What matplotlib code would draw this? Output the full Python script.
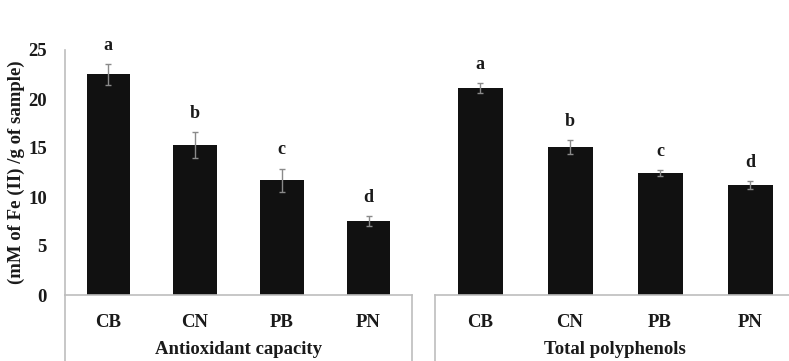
import matplotlib
matplotlib.use('Agg')
import matplotlib.pyplot as plt

samples = ['CB', 'CN', 'PB', 'PN']

antiox_mean = [22.5, 15.3, 11.7, 7.55]
antiox_err = [1.1, 1.3, 1.2, 0.5]
antiox_letters = ['a', 'b', 'c', 'd']

poly_mean = [21.1, 15.1, 12.45, 11.2]
poly_err = [0.5, 0.7, 0.3, 0.4]
poly_letters = ['a', 'b', 'c', 'd']

groups = ['Antioxidant capacity', 'Total polyphenols']
ylabel = '(mM of Fe (II) /g of sample)'

plt.rcParams['font.family'] = ['Liberation Serif', 'DejaVu Serif']
plt.rcParams['font.weight'] = 'bold'

W, H = 789, 361
fig = plt.figure(figsize=(W / 100, H / 100), dpi=100)

y0, y25 = 295, 50
bottom = (H - y0) / H
height = (y0 - y25) / H
ax1 = fig.add_axes([65 / W, bottom, (412 - 65) / W, height])
ax2 = fig.add_axes([435 / W, bottom, (795 - 435) / W, height])

gray = '#bdbdbd'
txt = '#1a1a1a'

for ax, means, errs, letters, group in [
        (ax1, antiox_mean, antiox_err, antiox_letters, groups[0]),
        (ax2, poly_mean, poly_err, poly_letters, groups[1])]:
    x = range(len(samples))
    ax.bar(x, means, width=0.5, color='#111111', zorder=2)
    ax.errorbar(x, means, yerr=errs, fmt='none', ecolor='#8a8a8a',
                elinewidth=1.0, capsize=2, capthick=1.0, zorder=3)
    for xi, m, e, l in zip(x, means, errs, letters):
        ax.text(xi, m + e + 1.9, l, ha='center', va='center',
                fontsize=13, fontweight='bold', color=txt)
    ax.set_xlim(-0.5, 3.5)
    ax.set_ylim(0, 25)
    ax.set_xticks(list(x))
    ax.set_xticklabels(samples, fontsize=13.5, fontweight='bold', color=txt)
    ax.tick_params(axis='x', length=0, pad=14)
    for s in ['top', 'right']:
        ax.spines[s].set_visible(False)
    ax.spines['bottom'].set_color(gray)
    ax.spines['bottom'].set_linewidth(1.2)
    ax.text(0.5, -(350 - y0) / (y0 - y25), group, transform=ax.transAxes,
            ha='center', va='center', fontsize=13.5, fontweight='bold', color=txt)
    # vertical separator below the baseline
    ax.plot([0, 0], [0, -(H - y0) / (y0 - y25)], transform=ax.transAxes,
            color=gray, lw=1.2, clip_on=False)

ax1.plot([1, 1], [0, -(H - y0) / (y0 - y25)], transform=ax1.transAxes,
         color=gray, lw=1.2, clip_on=False)

ax1.spines['left'].set_color(gray)
ax1.spines['left'].set_linewidth(1.2)
ax1.set_yticks([0, 5, 10, 15, 20, 25])
ax1.set_yticklabels(['0', '5', '10', '15', '20', '25'], fontsize=13.5,
                    fontweight='bold', color=txt)
ax1.tick_params(axis='y', length=0, pad=13)
ax1.set_ylabel(ylabel, fontsize=13.5, fontweight='bold', color=txt, labelpad=2)

ax2.spines['left'].set_visible(False)
ax2.set_yticks([])

fig.savefig('out.png', dpi=100)
